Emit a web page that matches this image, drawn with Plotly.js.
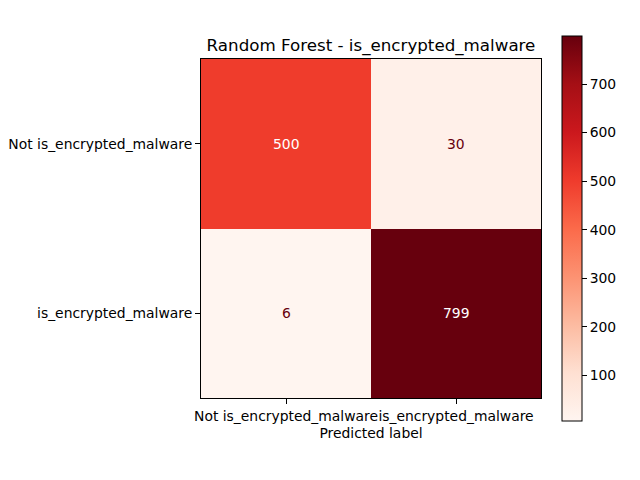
<!DOCTYPE html>
<html>
<head>
<meta charset="utf-8">
<script src="https://cdn.plot.ly/plotly-3.0.1.min.js"></script>
<style>html,body{margin:0;padding:0;background:#fff;}#chart{width:640px;height:480px;}</style>
</head>
<body>
<div id="chart"></div>
<script>
const labels = ["Not is_encrypted_malware", "is_encrypted_malware"];
const row0 = [500, 30];
const row1 = [6, 799];
const matrix = [row0, row1];
const colorbarTicks = [100, 200, 300, 400, 500, 600, 700];

const reds = [
  [0.0, "#fff5f0"], [0.125, "#fee0d2"], [0.25, "#fcbba1"], [0.375, "#fc9272"],
  [0.5, "#fb6a4a"], [0.625, "#ef3b2c"], [0.75, "#cb181d"], [0.875, "#a50f15"], [1.0, "#67000d"]
];

const flat = matrix.flat();
const zmin = Math.min(...flat), zmax = Math.max(...flat);
const thresh = (zmin + zmax) / 2;
const idx = labels.map((_, i) => i);

const annotations = [];
matrix.forEach((row, i) => row.forEach((v, j) => {
  annotations.push({
    x: j, y: i, xref: "x", yref: "y", text: String(v), showarrow: false,
    font: {family: "DejaVu Sans", size: 13.9, color: v > thresh ? "#ffffff" : "#67000d"}
  });
}));

const trace = {
  type: "heatmap", z: matrix, x: idx, y: idx,
  colorscale: reds, zmin: zmin, zmax: zmax, hoverinfo: "none",
  colorbar: {
    x: 1.062, xanchor: "left", xref: "paper", y: 0.5, yanchor: "middle",
    len: 385, lenmode: "pixels", thickness: 20, thicknessmode: "pixels",
    outlinewidth: 1, outlinecolor: "#000", xpad: 0, ypad: 0,
    tickvals: colorbarTicks, ticks: "outside", ticklen: 4.9, tickcolor: "#000",
    tickfont: {family: "DejaVu Sans", size: 13.9, color: "#000"}
  }
};

const layout = {
  width: 640, height: 480,
  margin: {l: 201, r: 99, t: 59, b: 82, pad: 0},
  paper_bgcolor: "#fff", plot_bgcolor: "#fff",
  font: {family: "DejaVu Sans", color: "#000"},
  title: {text: "Random Forest - is_encrypted_malware", font: {family: "DejaVu Sans", size: 16.7, color: "#000"},
          x: 0.5, xref: "paper", xanchor: "center", y: 1, yref: "paper", yanchor: "bottom", pad: {b: 8}},
  xaxis: {
    range: [-0.5, 1.5], tickvals: idx, ticktext: labels, tickangle: 0, ticks: "outside", ticklen: 4.9, tickcolor: "#000",
    showline: true, mirror: true, linecolor: "#000", linewidth: 1, showgrid: false, zeroline: false,
    tickfont: {family: "DejaVu Sans", size: 13.9, color: "#000"},
    title: {text: "Predicted label", font: {family: "DejaVu Sans", size: 13.9, color: "#000"}, standoff: 5}
  },
  yaxis: {
    range: [1.5, -0.5], tickvals: idx, ticktext: labels, ticks: "outside", ticklen: 4.9, tickcolor: "#000",
    showline: true, mirror: true, linecolor: "#000", linewidth: 1, showgrid: false, zeroline: false,
    tickfont: {family: "DejaVu Sans", size: 13.9, color: "#000"}
  },
  annotations: annotations
};

Plotly.newPlot("chart", [trace], layout, {displayModeBar: false, staticPlot: true});
</script>
</body>
</html>
